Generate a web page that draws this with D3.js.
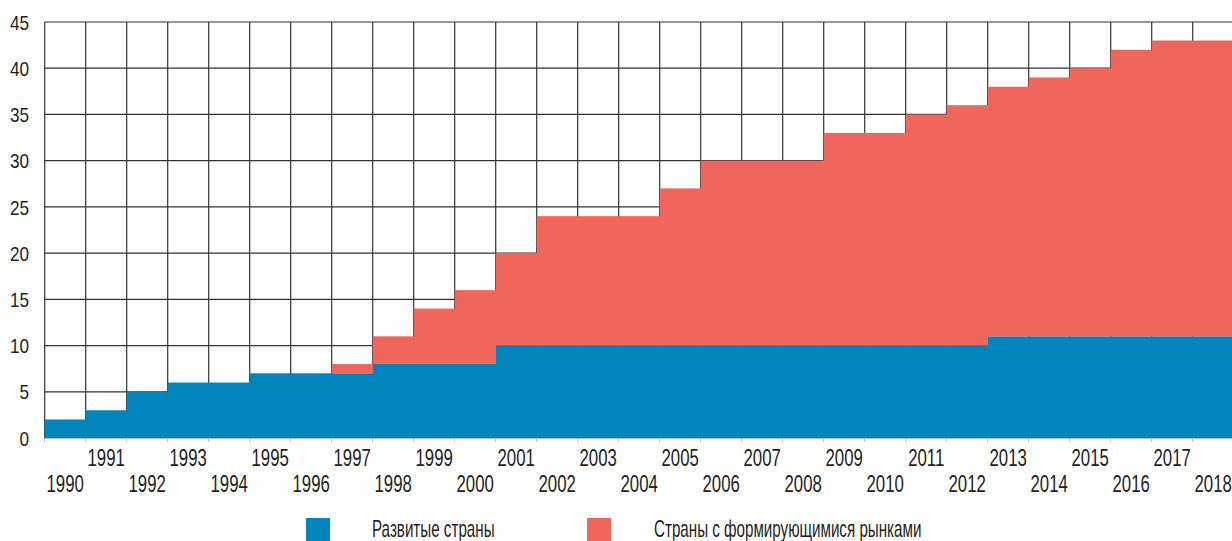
<!DOCTYPE html>
<html><head><meta charset="utf-8">
<script src="https://cdn.jsdelivr.net/npm/d3@7"></script>
<style>
html,body{margin:0;padding:0;background:#fff;}
svg{display:block;}
text{font-family:"Liberation Sans",Arial,sans-serif;fill:#231f20;}
</style></head>
<body>
<svg id="c" width="1232" height="541"></svg>
<script>
const years = [1990,1991,1992,1993,1994,1995,1996,1997,1998,1999,2000,2001,2002,2003,2004,2005,2006,2007,2008,2009,2010,2011,2012,2013,2014,2015,2016,2017,2018];
const developed = [2,3,5,6,6,7,7,7,8,8,8,10,10,10,10,10,10,10,10,10,10,10,10,11,11,11,11,11,11];
const emerging  = [0,0,0,0,0,0,0,1,3,6,8,10,14,14,14,17,20,20,20,23,23,25,26,27,28,29,31,32,32];
const yTicks = [0,5,10,15,20,25,30,35,40,45];
const seriesNames = ["Развитые страны","Страны с формирующимися рынками"];
const colors = ["#0284bd","#f0665c"];

const svg = d3.select("#c");
const x = d3.scaleBand().domain(years).range([44.7,1233.7]).padding(0);
const y = d3.scaleLinear().domain([0,45]).range([438,22]);

const table = years.map((yr,i)=>({year:yr, dev:developed[i], em:emerging[i]}));
const stack = d3.stack().keys(["dev","em"])(table);

// grid
const grid = svg.append("g");
grid.selectAll("line.h").data(yTicks).join("line")
  .attr("x1",x.range()[0]).attr("x2",x.range()[1])
  .attr("y1",d=>y(d)).attr("y2",d=>y(d))
  .attr("stroke","#333").attr("stroke-width",1.2);
const bounds = years.map(d=>x(d)).concat([x.range()[1]]);
grid.selectAll("line.v").data(bounds).join("line")
  .attr("x1",d=>d).attr("x2",d=>d)
  .attr("y1",y(45)).attr("y2",y(0))
  .attr("stroke","#333").attr("stroke-width",1.2);

// stacked step areas
stack.forEach((s,k)=>{
  svg.append("g").selectAll("rect").data(s).join("rect")
    .attr("x",d=>x(d.data.year)).attr("width",x.bandwidth()+0.3)
    .attr("y",d=>y(d[1])).attr("height",d=>y(d[0])-y(d[1]))
    .attr("fill",colors[k]);
});

// x axis
const xa = svg.append("g").attr("transform",`translate(0,${y(0)})`)
  .call(d3.axisBottom(x).tickSize(0).tickFormat(d=>d));
xa.select(".domain").attr("stroke","#bbb").attr("stroke-width",1);
xa.selectAll(".tick").each(function(d,i){
  d3.select(this).select("text")
    .attr("y", i%2===0 ? 53.7 : 28.5).attr("dy",0)
    .attr("font-size",24).attr("fill","#231f20")
    .attr("transform","scale(0.7,1)");
});
xa.selectAll(".bt").data(bounds).join("line").attr("class","bt")
  .attr("x1",d=>d).attr("x2",d=>d).attr("y1",0).attr("y2",4)
  .attr("stroke","#bbb");

// y axis
const ya = svg.append("g").attr("transform","translate(29,0)")
  .call(d3.axisLeft(y).tickValues(yTicks).tickSize(0).tickPadding(0));
ya.select(".domain").remove();
ya.selectAll(".tick text").attr("x",0).attr("dy","0.36em")
  .attr("font-size",20).attr("fill","#231f20")
  .attr("transform","scale(0.86,1)");

// legend
const lg = svg.append("g");
const lx = [306,587], tx=[372,654];
seriesNames.forEach((n,i)=>{
  lg.append("rect").attr("x",lx[i]).attr("y",518).attr("width",24).attr("height",30).attr("fill",colors[i]);
  lg.append("text").attr("x",0).attr("y",537).attr("font-size",23)
    .attr("transform",`translate(${tx[i]},0) scale(0.66,1)`).text(n);
});
</script>
</body></html>
